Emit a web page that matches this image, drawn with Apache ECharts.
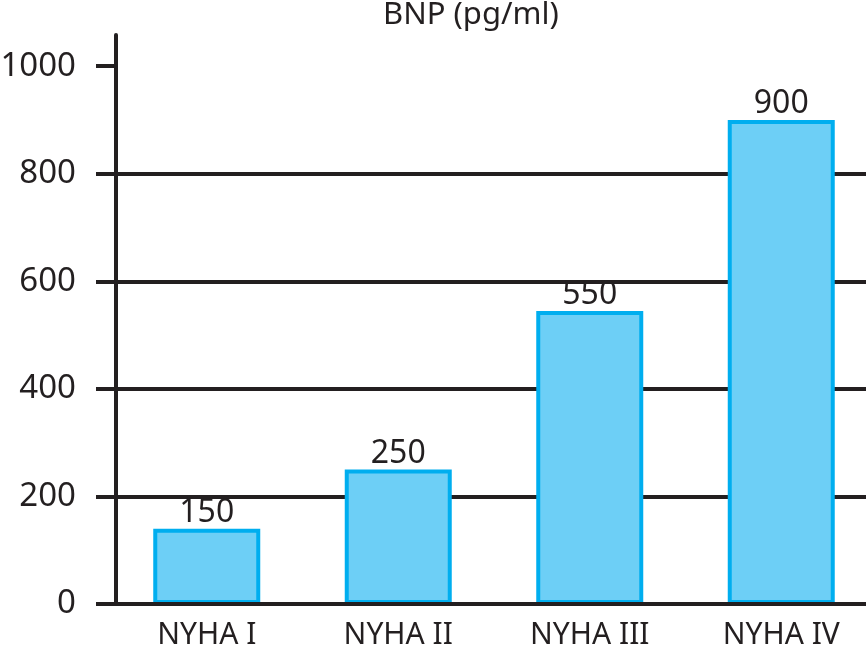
<!DOCTYPE html>
<html>
<head>
<meta charset="utf-8">
<script src="https://cdn.jsdelivr.net/npm/echarts@6/dist/echarts.min.js"></script>
<style>
html,body{margin:0;padding:0;background:#fff;}
#chart{width:866px;height:647px;}
</style>
</head>
<body>
<div id="chart"></div>
<script>
const categories = ["NYHA I", "NYHA II", "NYHA III", "NYHA IV"];
const values = [140, 250, 545, 900];
const valueLabels = ["150", "250", "550", "900"];
const yTicks = [0, 200, 400, 600, 800, 1000];
const titleText = "BNP (pg/ml)";

const ink = "#231f20";
const font = "Noto Sans";
const chart = echarts.init(document.getElementById("chart"));
chart.setOption({
  animation: false,
  backgroundColor: "#ffffff",
  title: {
    text: titleText,
    left: 378,
    top: -5,
    textStyle: { fontFamily: font, fontSize: 31, fontWeight: "normal", color: ink }
  },
  grid: { left: 111, right: -11, top: 35, bottom: 43, containLabel: false, outerBoundsMode: "none" },
  xAxis: {
    type: "category",
    data: categories,
    z: 5,
    axisLine: { lineStyle: { color: ink, width: 4 } },
    axisTick: { show: false },
    axisLabel: { fontFamily: font, fontSize: 30, color: ink, margin: 16 },
    splitLine: { show: false }
  },
  yAxis: {
    type: "value",
    min: 0,
    max: 1058,
    interval: 200,
    offset: -5,
    z: 0,
    axisLine: { show: true, lineStyle: { color: ink, width: 4 } },
    axisTick: { show: true, length: 20, customValues: yTicks, lineStyle: { color: ink, width: 4 } },
    axisLabel: { fontFamily: font, fontSize: 33, color: ink, margin: 40, customValues: yTicks, formatter: v => String(v) },
    splitLine: { show: true, showMaxLine: false, lineStyle: { color: ink, width: 4 } }
  },
  series: [{
    type: "bar",
    data: values,
    barWidth: 107,
    z: 2,
    itemStyle: { color: "#6dcff6", borderColor: "#00aeef", borderWidth: 4 },
    label: {
      show: true,
      position: "top",
      distance: 0,
      fontFamily: font,
      fontSize: 32,
      color: ink,
      formatter: p => valueLabels[p.dataIndex]
    }
  }]
});
</script>
</body>
</html>
